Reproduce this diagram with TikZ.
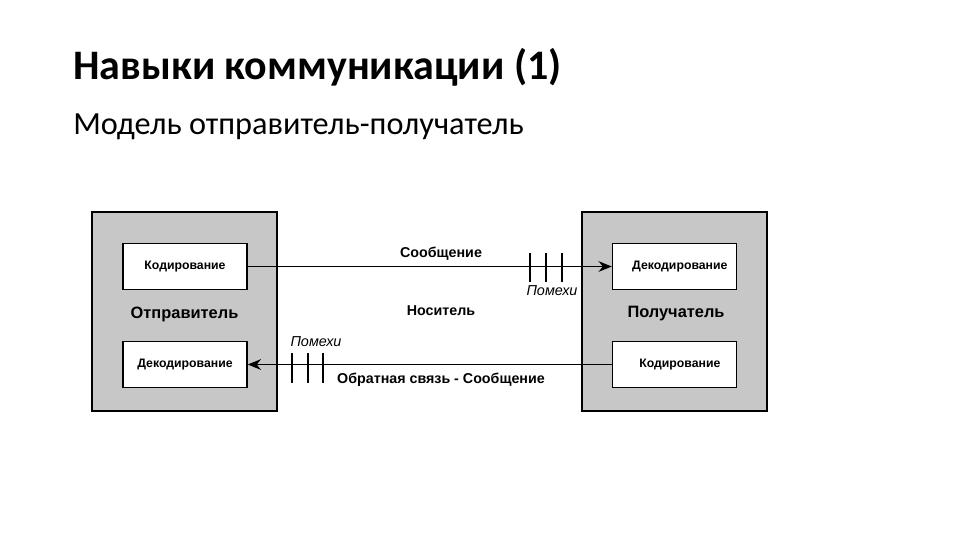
\documentclass[tikz,border=0pt]{standalone}
\usepackage{fontspec}
\setmainfont{Carlito}
\newfontfamily\arialfont{Liberation Sans}
\usetikzlibrary{arrows.meta}

\begin{document}
\begin{tikzpicture}[x=0.75pt, y=-0.75pt,
    outerbox/.style={draw, line width=1.3pt, fill=black!22, minimum width=138.75pt, minimum height=149.25pt, inner sep=0pt},
    innerbox/.style={draw, line width=1pt, fill=white, minimum width=93pt, minimum height=34.5pt, inner sep=0pt, font=\arialfont\fontsize{9.2}{11}\selectfont\bfseries},
    rolelabel/.style={font=\arialfont\fontsize{12.3}{14}\selectfont\bfseries},
    lbl/.style={font=\arialfont\fontsize{10.7}{12}\selectfont\bfseries},
    noise/.style={font=\arialfont\fontsize{10.8}{12}\selectfont\itshape},
    msg/.style={line width=1.1pt, -{Stealth[length=10pt, width=8pt]}}]
    \useasboundingbox (0,0) rectangle (960,540);
    % title
    \node[anchor=base west, inner sep=0pt, font=\fontsize{31.5}{36}\selectfont\bfseries] (title) at (73,79) {Навыки коммуникации (1)};
    \node[anchor=base west, inner sep=0pt, font=\fontsize{24.2}{29}\selectfont] (subtitle) at (73,134) {Модель отправитель-получатель};
    % sender and receiver
    \node[outerbox] (sender) at (184.5,311.5) {};
    \node[outerbox] (receiver) at (674.5,311.5) {};
    \node[innerbox] (enc1) at (185,266.5) {Кодирование};
    \node[innerbox] (dec1) at (185,364.5) {Декодирование};
    \node[innerbox] (dec2) at (674.5,266.5) {\hspace{8pt}Декодирование};
    \node[innerbox] (enc2) at (674.5,364.5) {\hspace{8pt}Кодирование};
    \node[rolelabel] (sendername) at (184.5,314) {Отправитель};
    \node[rolelabel] (receivername) at (676,314) {Получатель};
    % messages
    \draw[msg] (enc1.east) -- (dec2.west);
    \draw[msg] (enc2.west) -- (dec1.east);
    \foreach \x in {530,546,562} \draw[line width=1.1pt] (\x,253) -- (\x,282);
    \foreach \x in {292,308,323} \draw[line width=1.1pt] (\x,353) -- (\x,383);
    \node[lbl] (message) at (441,254) {Сообщение};
    \node[lbl] (medium) at (441,311) {Носитель};
    \node[lbl] (feedback) at (441,380) {Обратная связь - Сообщение};
    \node[noise] (noise1) at (552,291) {Помехи};
    \node[noise] (noise2) at (316,342) {Помехи};
\end{tikzpicture}
\end{document}
